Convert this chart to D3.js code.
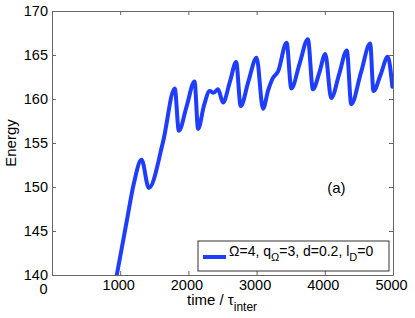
<!DOCTYPE html>
<html>
<head>
<meta charset="utf-8">
<script src="https://cdnjs.cloudflare.com/ajax/libs/d3/7.8.5/d3.min.js"></script>
<style>
  body { margin: 0; background: #fff; }
  text { font-family: "Liberation Sans", Arial, sans-serif; fill: #000; }
</style>
</head>
<body>
<div id="chart"></div>
<script>
// Data
var times = [950, 1100, 1200, 1313, 1420, 1630, 1800, 1860, 1975, 2090, 2142, 2230, 2313, 2370, 2435, 2508,
  2610, 2700, 2767, 2880, 3000, 3094, 3170, 3240, 3313, 3440, 3509, 3630, 3752, 3826, 3920, 4007,
  4094, 4210, 4323, 4388, 4530, 4665, 4714, 4820, 4923, 4990];
var energy = [140, 146.3, 150.4, 153.1, 149.9, 155.2, 161.2, 156.4, 159.2, 162.0, 156.6, 159.3, 160.9, 160.7, 161.1, 159.6,
  162.0, 164.2, 159.2, 162.0, 164.7, 158.9, 161.0, 162.4, 163.1, 166.4, 161.2, 164.0, 166.8, 161.1, 163.0, 165.1,
  160.1, 162.8, 165.5, 159.4, 163.0, 166.3, 160.9, 162.8, 164.8, 161.4];
var xTicks = [0, 1000, 2000, 3000, 4000, 5000];
var yTicks = [140, 145, 150, 155, 160, 165, 170];

var svgWidth = 415;
var svgHeight = 318;

var margin = {
  top: 11,
  right: 22,
  bottom: 43,
  left: 52
};

var width = svgWidth - margin.left - margin.right;
var height = svgHeight - margin.top - margin.bottom;

var svg = d3.select("#chart")
  .append("svg")
  .attr("width", svgWidth)
  .attr("height", svgHeight);

var chartGroup = svg.append("g")
  .attr("transform", `translate(${margin.left}, ${margin.top})`);

var xScale = d3.scaleLinear()
  .domain([0, 5000])
  .range([0, width]);

var yScale = d3.scaleLinear()
  .domain([140, 170])
  .range([height, 0]);

// clip for the curve
chartGroup.append("clipPath")
  .attr("id", "plotclip")
  .append("rect")
  .attr("width", width)
  .attr("height", height);

// Axes, MATLAB box style with inward ticks
var tickLen = 4;
var axisColor = "#666";

var bottomAxis = d3.axisBottom(xScale).tickValues(xTicks).tickFormat(d3.format("d"))
  .tickSizeInner(-tickLen).tickSizeOuter(0).tickPadding(5);
var topAxis = d3.axisTop(xScale).tickValues(xTicks).tickSizeInner(-tickLen).tickSizeOuter(0).tickFormat("");
var leftAxis = d3.axisLeft(yScale).tickValues(yTicks).tickFormat(d3.format("d"))
  .tickSizeInner(-tickLen).tickSizeOuter(0).tickPadding(4);
var rightAxis = d3.axisRight(yScale).tickValues(yTicks).tickSizeInner(-tickLen).tickSizeOuter(0).tickFormat("");

var gx = chartGroup.append("g")
  .attr("transform", `translate(0, ${height})`)
  .call(bottomAxis);
chartGroup.append("g").call(topAxis);
var gy = chartGroup.append("g").call(leftAxis);
chartGroup.append("g")
  .attr("transform", `translate(${width}, 0)`)
  .call(rightAxis);

chartGroup.selectAll(".domain").attr("stroke", axisColor);
chartGroup.selectAll(".tick line").attr("stroke", axisColor);
chartGroup.selectAll(".tick text")
  .style("font-size", "14.5px")
  .style("font-family", "Liberation Sans, Arial, sans-serif")
  .attr("fill", "#000");

// labels sit slightly left of their ticks in the original
gx.selectAll(".tick text").attr("dx", "-2");
gx.selectAll(".tick text").filter(d => d === 0).attr("dx", "-9").attr("y", 9);

// Line
var line = d3.line()
  .x((d, i) => xScale(times[i]))
  .y(d => yScale(d))
  .curve(d3.curveMonotoneX);

chartGroup.append("path")
  .datum(energy)
  .attr("clip-path", "url(#plotclip)")
  .attr("fill", "none")
  .attr("stroke", "#1f3dff")
  .attr("stroke-width", 4)
  .attr("stroke-linejoin", "round")
  .attr("stroke-linecap", "round")
  .attr("d", line);

// Panel label
chartGroup.append("text")
  .attr("x", xScale(4170))
  .attr("y", yScale(140 + (275 - 193) / 8.8))
  .attr("text-anchor", "middle")
  .style("font-size", "15px")
  .text("(a)");

// Legend
var legend = svg.append("g");
legend.append("rect")
  .attr("x", 198)
  .attr("y", 241)
  .attr("width", 191)
  .attr("height", 30)
  .attr("fill", "#fff")
  .attr("stroke", "#333")
  .attr("stroke-width", 1);

legend.append("line")
  .attr("x1", 203)
  .attr("x2", 226)
  .attr("y1", 257)
  .attr("y2", 257)
  .attr("stroke", "#1f3dff")
  .attr("stroke-width", 4);

var legText = legend.append("text")
  .attr("x", 229)
  .attr("y", 256)
  .style("font-size", "14px");
legText.append("tspan").text("\u03A9=4, q");
legText.append("tspan").attr("dy", 5).style("font-size", "11px").text("\u03A9");
legText.append("tspan").attr("dy", -5).text("=3, d=0.2, l");
legText.append("tspan").attr("dy", 5).style("font-size", "11px").text("D");
legText.append("tspan").attr("dy", -5).text("=0");

// Axes labels
svg.append("text")
  .attr("transform", "rotate(-90)")
  .attr("x", -(margin.top + height / 2))
  .attr("y", 16)
  .attr("text-anchor", "middle")
  .style("font-size", "15px")
  .text("Energy");

var xLab = svg.append("text")
  .attr("x", 187)
  .attr("y", 305)
  .style("font-size", "15px");
xLab.append("tspan").text("time / \u03C4");
xLab.append("tspan").attr("dy", 6).style("font-size", "12px").text("inter");
</script>
</body>
</html>
